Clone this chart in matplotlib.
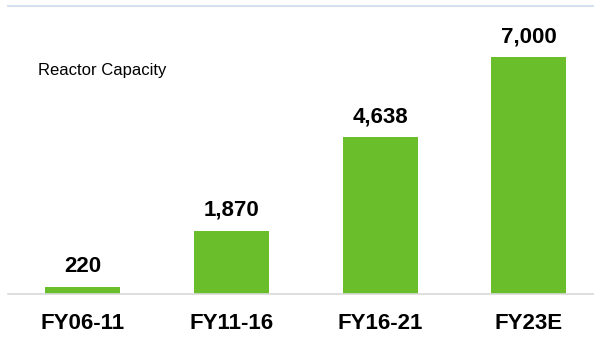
import matplotlib
matplotlib.use('Agg')
import matplotlib.pyplot as plt

# reactor capacity by period
periods = ['FY06-11', 'FY11-16', 'FY16-21', 'FY23E']
capacity = [220, 1870, 4638, 7000]

plt.rcParams['font.family'] = ['Liberation Sans', 'DejaVu Sans']

fig = plt.figure(figsize=(5.94, 3.37), dpi=100)
ax = fig.add_axes([8 / 594, 43 / 337, 586 / 594, 288.5 / 337])

x = range(len(periods))
bars = ax.bar(x, capacity, width=0.505, color='#6abd2b', zorder=2)

for rect, val in zip(bars, capacity):
    ax.annotate(f'{val:,}', (rect.get_x() + rect.get_width() / 2, val),
                xytext=(0, 7), textcoords='offset points',
                ha='center', va='bottom', fontsize=16, fontweight='bold')

ax.set_xlim(-0.505, 3.441)
ax.set_ylim(0, 8521)
ax.set_xticks(list(x))
ax.set_xticklabels(periods, fontsize=16, fontweight='bold')
ax.tick_params(axis='x', length=0, pad=13.5)
ax.set_yticks([])

for side in ['left', 'right']:
    ax.spines[side].set_visible(False)
ax.spines['top'].set_color('#d6e1ef')
ax.spines['top'].set_linewidth(1.5)
ax.spines['bottom'].set_color('#d9d9d9')
ax.spines['bottom'].set_linewidth(1.2)

fig.text(38 / 594, 1 - 70 / 337, 'Reactor Capacity', fontsize=12,
         ha='left', va='center')

fig.savefig('out.png', dpi=100)
